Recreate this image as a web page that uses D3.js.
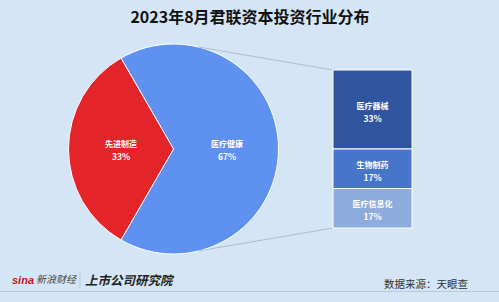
<!DOCTYPE html>
<html>
<head>
<meta charset="utf-8">
<script src="https://cdn.jsdelivr.net/npm/d3@7"></script>
<style>
  body { margin: 0; background: #d4e6f5; }
  svg { display: block; font-family: "Noto Sans CJK SC", "Noto Sans", sans-serif; }
</style>
</head>
<body>
<svg></svg>
<script>
var mainCats = ["医疗健康", "先进制造"];
var mainVals = [4, 2];
var mainColors = ["#5f91f1", "#e3252a"];

var subCats = ["医疗器械", "生物制药", "医疗信息化"];
var subVals = [2, 1, 1];
var subColors = ["#2f559e", "#4675c9", "#8eabdd"];

var title = "2023年8月君联资本投资行业分布";
var source = "数据来源：天眼查";

var width = 499;
var height = 302;
var total = d3.sum(mainVals);

var svg = d3.select("svg")
	.attr("width", width)
	.attr("height", height);

svg.append("rect")
	.attr("width", width)
	.attr("height", height)
	.attr("fill", "#d4e6f5");

svg.append("text")
	.attr("x", 250)
	.attr("y", 23)
	.attr("text-anchor", "middle")
	.style("font-size", "16px")
	.style("font-weight", "bold")
	.attr("fill", "#111")
	.text(title);

// pie
var cx = 173.5, cy = 149, r = 105;
var pie = d3.pie().sort(null)
	.startAngle(-Math.PI / 6)
	.endAngle(2 * Math.PI - Math.PI / 6);
var arcs = pie(mainVals);
var arc = d3.arc().innerRadius(0).outerRadius(r);

var g = svg.append("g").attr("transform", "translate(" + cx + "," + cy + ")");

// connector lines (drawn under the pie)
var barX = 333, barW = 79;
var y = d3.scaleLinear().domain([0, d3.sum(subVals)]).range([70, 228]);
var a1 = 14 * Math.PI / 180;
var conn = [
	{ a: a1, x2: barX, y2: y(0) },
	{ a: Math.PI - a1, x2: barX, y2: y(d3.sum(subVals)) }
];
svg.selectAll("line.conn")
	.data(conn)
	.enter()
	.append("line")
	.attr("class", "conn")
	.attr("x1", function (d) { return cx + r * Math.sin(d.a); })
	.attr("y1", function (d) { return cy - r * Math.cos(d.a); })
	.attr("x2", function (d) { return d.x2; })
	.attr("y2", function (d) { return d.y2; })
	.attr("stroke", "#aebccb")
	.attr("stroke-width", 1);

g.selectAll("path")
	.data(arcs)
	.enter()
	.append("path")
	.attr("d", arc)
	.attr("fill", function (d, i) { return mainColors[i]; })
	.attr("stroke", "#fff")
	.attr("stroke-width", 1);

var labelPos = [[227 - cx, 0], [121 - cx, 0]];
var pieLabels = g.selectAll("g.lab")
	.data(arcs)
	.enter()
	.append("g")
	.attr("transform", function (d, i) { return "translate(" + labelPos[i][0] + "," + labelPos[i][1] + ")"; });
pieLabels.append("text")
	.attr("y", -2)
	.attr("text-anchor", "middle")
	.attr("fill", "#fff")
	.style("font-size", "8px")
	.style("font-weight", "bold")
	.text(function (d, i) { return mainCats[i]; });
pieLabels.append("text")
	.attr("y", 11)
	.attr("text-anchor", "middle")
	.attr("fill", "#fff")
	.style("font-size", "8.5px")
	.style("font-weight", "bold")
	.text(function (d) { return Math.round(d.value / total * 100) + "%"; });

// stacked bar
var stacked = [];
var acc = 0;
subVals.forEach(function (v, i) {
	stacked.push({ name: subCats[i], v: v, y0: acc, y1: acc + v, color: subColors[i] });
	acc += v;
});

var bars = svg.selectAll("g.bar")
	.data(stacked)
	.enter()
	.append("g");
bars.append("rect")
	.attr("x", barX)
	.attr("y", function (d) { return y(d.y0); })
	.attr("width", barW)
	.attr("height", function (d) { return y(d.y1) - y(d.y0); })
	.attr("fill", function (d) { return d.color; })
	.attr("stroke", "#fff")
	.attr("stroke-width", 1);
bars.append("text")
	.attr("x", barX + barW / 2)
	.attr("y", function (d) { return (y(d.y0) + y(d.y1)) / 2 - 1; })
	.attr("text-anchor", "middle")
	.attr("fill", "#fff")
	.style("font-size", "8px")
	.style("font-weight", "bold")
	.text(function (d) { return d.name; });
bars.append("text")
	.attr("x", barX + barW / 2)
	.attr("y", function (d) { return (y(d.y0) + y(d.y1)) / 2 + 12; })
	.attr("text-anchor", "middle")
	.attr("fill", "#fff")
	.style("font-size", "8.5px")
	.style("font-weight", "bold")
	.text(function (d) { return Math.round(d.v / total * 100) + "%"; });

// footer
svg.append("text")
	.attr("x", 12).attr("y", 284)
	.attr("fill", "#c4161c")
	.style("font-size", "11px")
	.style("font-weight", "bold")
	.style("font-style", "italic")
	.attr("font-family", "Liberation Sans, sans-serif")
	.text("sina");
svg.append("text")
	.attr("x", 36).attr("y", 283)
	.attr("fill", "#444")
	.style("font-size", "10px")
	.style("font-style", "italic")
	.text("新浪财经");
svg.append("line")
	.attr("x1", 80).attr("x2", 80).attr("y1", 272).attr("y2", 288)
	.attr("stroke", "#b8c6d4");
svg.append("text")
	.attr("x", 85).attr("y", 285)
	.attr("fill", "#222")
	.style("font-size", "12.5px")
	.style("font-weight", "bold")
	.style("font-style", "italic")
	.text("上市公司研究院");
svg.append("text")
	.attr("x", 468).attr("y", 288)
	.attr("text-anchor", "end")
	.attr("fill", "#333")
	.style("font-size", "10.5px")
	.text(source);
svg.append("line")
	.attr("x1", 0).attr("x2", width).attr("y1", 291.5).attr("y2", 291.5)
	.attr("stroke", "#b9c8d6");
</script>
</body>
</html>
